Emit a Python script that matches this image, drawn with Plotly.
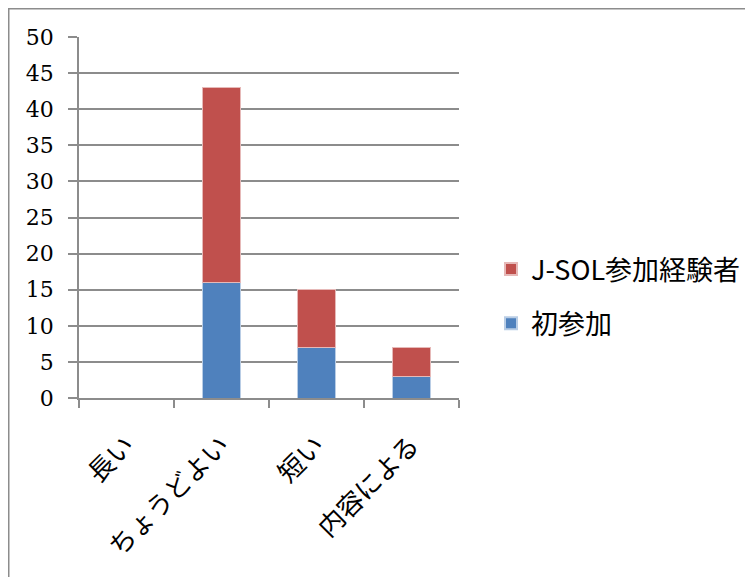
import plotly.graph_objects as go

categories = ["長い", "ちょうどよい", "短い", "内容による"]
first_time = [0, 16, 7, 3]
jsol_experienced = [0, 27, 8, 4]
series_names = ["初参加", "J-SOL参加経験者"]
y_ticks = [0, 5, 10, 15, 20, 25, 30, 35, 40, 45, 50]

# page has an 8px body margin, so the figure is 745x569 drawn at (8, 8)
W, H = 745, 569
L, R, T, B = 71, 294, 29, 179
pw, ph = W - L - R, H - T - B

def px_x(x):
    return (x - L) / pw

def px_y(y):
    return (H - B - y) / ph

fig = go.Figure()
fig.add_trace(go.Bar(x=categories, y=first_time, name=series_names[0],
                     marker=dict(color="#4F81BD", line=dict(color="#B9CDE5", width=1)),
                     legendgroup="g2", legendrank=2))
fig.add_trace(go.Bar(x=categories, y=jsol_experienced, name=series_names[1],
                     marker=dict(color="#C0504D", line=dict(color="#E6B9B8", width=1)),
                     legendgroup="g1", legendrank=1))

grid = "#8C8C8C"
fig.update_layout(
    width=W, height=H,
    margin=dict(l=L, r=R, t=T, b=B, autoexpand=False),
    paper_bgcolor="white", plot_bgcolor="white",
    barmode="stack", bargap=0.6,
    font=dict(family="Noto Sans CJK JP", color="black"),
    xaxis=dict(showline=True, linecolor=grid, linewidth=1.5,
               ticks="outside", ticklen=8, tickcolor=grid, tickwidth=1.5,
               tickson="boundaries", tickangle=-45, ticklabelstandoff=20,
               tickfont=dict(family="Noto Sans CJK JP", size=26, color="black"),
               showgrid=False, automargin=False),
    yaxis=dict(range=[0, 50], tickvals=y_ticks, showline=True, linecolor=grid, linewidth=1.5,
               ticks="outside", ticklen=9, tickcolor=grid, tickwidth=1.5,
               showgrid=True, gridcolor=grid, gridwidth=1.5, zeroline=False,
               ticklabelstandoff=10, automargin=False,
               tickfont=dict(family="DejaVu Serif", size=22, color="black")),
    legend=dict(xref="container", yref="container",
                x=483 / W, y=1 - 237 / H, xanchor="left", yanchor="top",
                traceorder="grouped", tracegroupgap=16, itemsizing="constant",
                font=dict(family="Noto Sans CJK JP", size=27, color="black"),
                bgcolor="rgba(0,0,0,0)"),
    shapes=[dict(type="rect", xref="paper", yref="paper",
                 x0=px_x(0.75), x1=px_x(744), y0=px_y(600), y1=px_y(0.75),
                 line=dict(color="#8C8C8C", width=1.5), layer="below")],
)

fig.write_html("out.html")
